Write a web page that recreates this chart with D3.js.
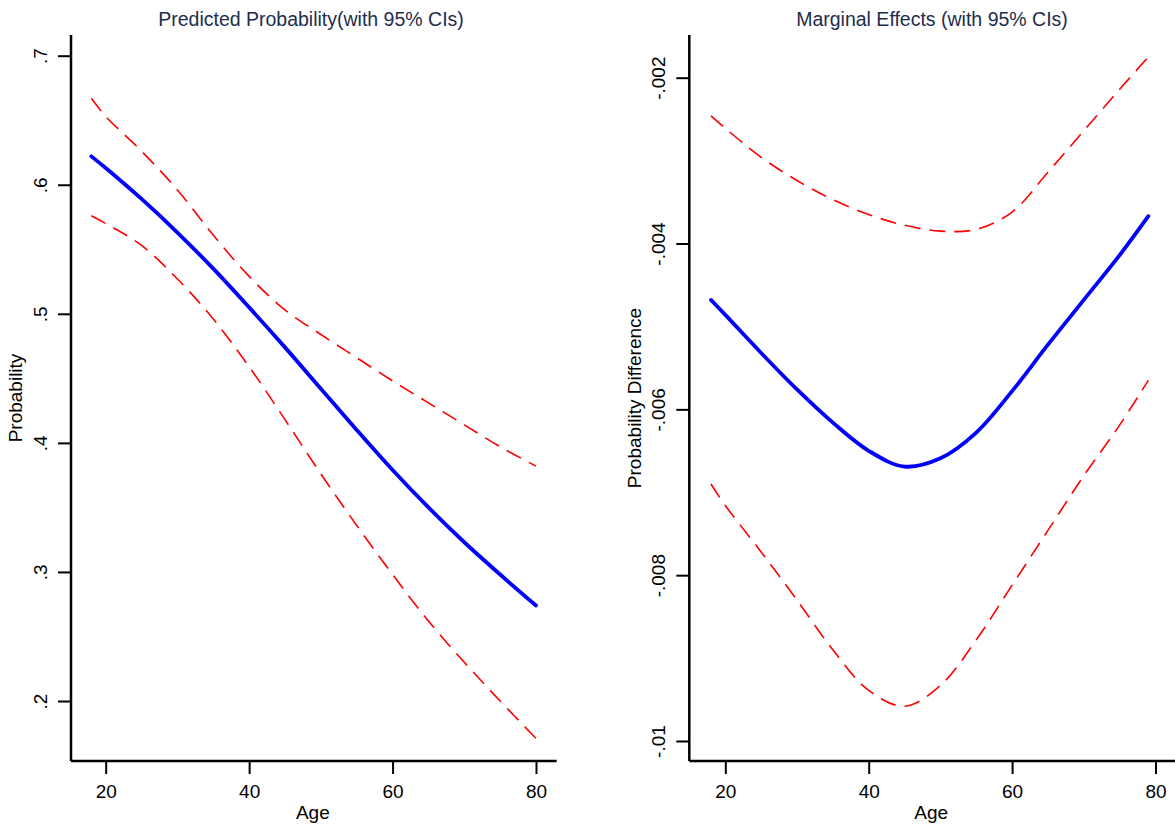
<!DOCTYPE html>
<html>
<head>
<meta charset="utf-8">
<script src="https://cdn.jsdelivr.net/npm/d3@7"></script>
<style>
  html, body { margin: 0; padding: 0; background: #fff; }
  svg { display: block; }
  text { font-family: "Liberation Sans", Arial, sans-serif; }
</style>
</head>
<body>
<svg id="chart" width="1175" height="829"></svg>
<script>
// ---------- Data ----------
const agesLeft = [18, 20, 25, 30, 35, 40, 45, 50, 55, 60, 65, 70, 75, 80];
const probPred  = [0.622, 0.613, 0.589, 0.563, 0.535, 0.505, 0.474, 0.442, 0.410, 0.379, 0.350, 0.323, 0.298, 0.274];
const probUpper = [0.667, 0.653, 0.626, 0.596, 0.561, 0.529, 0.503, 0.484, 0.466, 0.448, 0.431, 0.414, 0.397, 0.382];
const probLower = [0.576, 0.570, 0.553, 0.527, 0.496, 0.459, 0.418, 0.376, 0.336, 0.298, 0.262, 0.230, 0.200, 0.171];

const agesRight = [18, 20, 25, 30, 35, 40, 45, 50, 55, 60, 65, 70, 75, 79];
const margEff   = [-0.00468, -0.00486, -0.00532, -0.00576, -0.00616, -0.00650, -0.00669, -0.00659, -0.00628, -0.00578, -0.00522, -0.00468, -0.00414, -0.00367];
const margUpper = [-0.00246, -0.00261, -0.00296, -0.00324, -0.00347, -0.00365, -0.00378, -0.00385, -0.00383, -0.00362, -0.00314, -0.00264, -0.00214, -0.00175];
const margLower = [-0.00690, -0.00716, -0.00772, -0.00830, -0.00890, -0.00939, -0.00958, -0.00933, -0.00878, -0.00812, -0.00746, -0.00680, -0.00619, -0.00565];

const xTicks = [20, 40, 60, 80];
const xTickLabels = ["20", "40", "60", "80"];
const leftYTicks = [0.2, 0.3, 0.4, 0.5, 0.6, 0.7];
const leftYTickLabels = [".2", ".3", ".4", ".5", ".6", ".7"];
const rightYTicks = [-0.01, -0.008, -0.006, -0.004, -0.002];
const rightYTickLabels = ["-.01", "-.008", "-.006", "-.004", "-.002"];

const titles = ["Predicted Probability(with 95% CIs)", "Marginal Effects (with 95% CIs)"];
const xTitle = "Age";
const yTitles = ["Probability", "Probability Difference"];

// ---------- Layout ----------
const svg = d3.select("#chart");
const titleColor = "#1e2d4e";
const fs = 19;

const panels = [
  {
    ages: agesLeft, mid: probPred, up: probUpper, lo: probLower,
    x: d3.scaleLinear().domain([20, 80]).range([105.7, 536]),
    y: d3.scaleLinear().domain([0.2, 0.7]).range([701, 55.7]),
    axisX: 71, axisY: 761, xEnd: 556.7, yTop: 35,
    yTicks: leftYTicks, yLabels: leftYTickLabels,
    title: titles[0], titleX: 311, yTitle: yTitles[0], yTitleX: 22
  },
  {
    ages: agesRight, mid: margEff, up: margUpper, lo: margLower,
    x: d3.scaleLinear().domain([20, 80]).range([725.3, 1155.5]),
    y: d3.scaleLinear().domain([-0.01, -0.002]).range([741, 77.7]),
    axisX: 689.3, axisY: 761, xEnd: 1175, yTop: 35,
    yTicks: rightYTicks, yLabels: rightYTickLabels,
    title: titles[1], titleX: 932, yTitle: yTitles[1], yTitleX: 641
  }
];

panels.forEach(p => {
  const g = svg.append("g");

  // title
  g.append("text")
    .attr("x", p.titleX).attr("y", 26)
    .attr("text-anchor", "middle")
    .attr("fill", titleColor)
    .style("font-size", "19.5px")
    .text(p.title);

  // x axis
  const xAxis = d3.axisBottom(p.x)
    .tickValues(xTicks)
    .tickFormat((d, i) => xTickLabels[i])
    .tickSize(13).tickPadding(11).tickSizeOuter(0);
  const gx = g.append("g").attr("transform", `translate(0,${p.axisY})`).call(xAxis);
  gx.select(".domain").remove();
  gx.selectAll(".tick line").attr("stroke", "#000").attr("stroke-width", 2);
  gx.selectAll(".tick text").attr("fill", "#000").style("font-size", fs + "px").attr("font-family", null);

  // y axis
  const yAxis = d3.axisLeft(p.y)
    .tickValues(p.yTicks)
    .tickFormat((d, i) => p.yLabels[i])
    .tickSize(13).tickSizeOuter(0);
  const gy = g.append("g").attr("transform", `translate(${p.axisX},0)`).call(yAxis);
  gy.select(".domain").remove();
  gy.selectAll(".tick line").attr("stroke", "#000").attr("stroke-width", 2);
  gy.selectAll(".tick text")
    .attr("fill", "#000")
    .style("font-size", fs + "px")
    .attr("font-family", null)
    .attr("x", null).attr("dy", null)
    .attr("text-anchor", "middle")
    .attr("transform", "translate(-24,0) rotate(-90)");

  // axis lines
  g.append("line")
    .attr("x1", p.axisX).attr("x2", p.xEnd)
    .attr("y1", p.axisY).attr("y2", p.axisY)
    .attr("stroke", "#000").attr("stroke-width", 2.5);
  g.append("line")
    .attr("x1", p.axisX).attr("x2", p.axisX)
    .attr("y1", p.yTop).attr("y2", p.axisY)
    .attr("stroke", "#000").attr("stroke-width", 2.5);

  // axis titles
  g.append("text")
    .attr("x", (p.axisX + p.xEnd) / 2 - 1).attr("y", 819)
    .attr("text-anchor", "middle")
    .style("font-size", fs + "px")
    .attr("fill", "#000")
    .text(xTitle);
  g.append("text")
    .attr("transform", `translate(${p.yTitleX},398) rotate(-90)`)
    .attr("text-anchor", "middle")
    .style("font-size", fs + "px")
    .attr("fill", "#000")
    .text(p.yTitle);

  // lines
  const mk = vals => d3.line()
    .x((d, i) => p.x(p.ages[i]))
    .y(d => p.y(d))
    .curve(d3.curveCatmullRom.alpha(0.5))(vals);

  g.append("path").attr("d", mk(p.up))
    .attr("fill", "none").attr("stroke", "#ff0000")
    .attr("stroke-width", 1.6).attr("stroke-dasharray", "16,9");
  g.append("path").attr("d", mk(p.lo))
    .attr("fill", "none").attr("stroke", "#ff0000")
    .attr("stroke-width", 1.6).attr("stroke-dasharray", "16,9");
  g.append("path").attr("d", mk(p.mid))
    .attr("fill", "none").attr("stroke", "#0000ff")
    .attr("stroke-width", 3.8).attr("stroke-linecap", "round");
});
</script>
</body>
</html>
